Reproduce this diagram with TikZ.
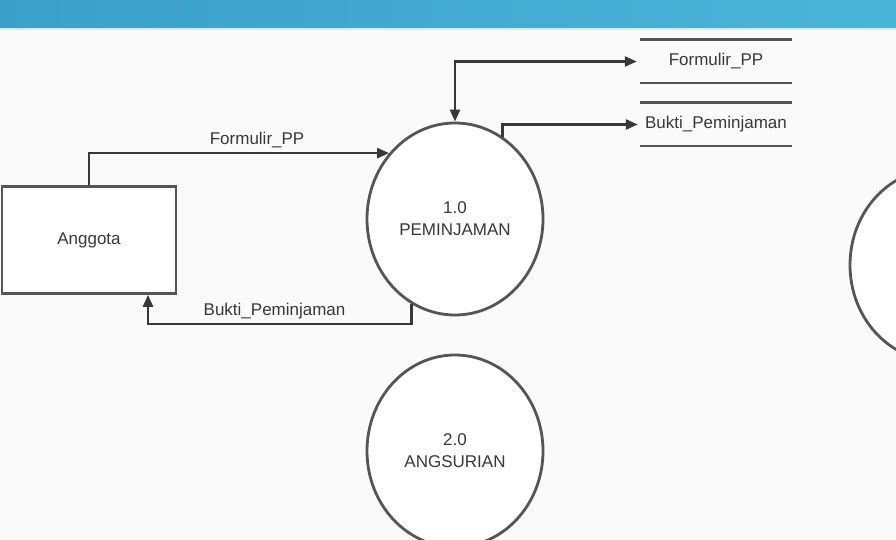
\documentclass[tikz,border=0pt]{standalone}
\usepackage{fontspec}
\setmainfont{Liberation Sans}
\setsansfont{Liberation Sans}
\usetikzlibrary{positioning, arrows.meta, calc, shapes.geometric}
\definecolor{barL}{HTML}{3C9FC9}
\definecolor{barR}{HTML}{4BB5D9}
\definecolor{paper}{HTML}{FAFAFA}
\definecolor{ink}{HTML}{383838}
\definecolor{ink2}{HTML}{555555}

\begin{document}
\begin{tikzpicture}[
    x=1pt, y=-1pt,
    font=\sffamily\fontsize{17}{22}\selectfont,
    entity/.style={
        rectangle, draw=ink2, line width=2.6pt, fill=white,
        minimum width=174pt, minimum height=107pt, text=ink
    },
    proc/.style={
        ellipse, draw=ink2, line width=2.8pt, fill=white,
        minimum width=176pt, minimum height=192pt, inner sep=0pt,
        align=center, text=ink
    },
    store/.style={
        rectangle, minimum width=152pt, minimum height=43pt,
        inner sep=0pt, text=ink
    },
    tip/.tip={Triangle[length=12pt, width=10pt]},
    arr/.style={-tip, draw=ink, line width=2.4pt},
    lbl/.style={text=ink, inner sep=4pt},
]

% ---------------------------------------------------------------- frame
\useasboundingbox (0,0) rectangle (896,540);
\fill[paper] (0,0) rectangle (896,540);
\shade[left color=barL, right color=barR] (0,0) rectangle (896,28);
\draw[white!75!barR, line width=1.5pt] (0,29) -- (896,29);

% ---------------------------------------------------------------- nodes
\node (ang) [entity] at (89,240)  {Anggota};
\node (p1)  [proc]   at (455,219) {1.0\\PEMINJAMAN};
\node (p2)  [proc]   at (455,451) {2.0\\ANGSURIAN};
\node (p3)  [proc]   at (938,265) {};

\node (fpp) [store] at (716,61.5)  {Formulir\_PP};
\node (bpj) [store] at (716,124.5) {Bukti\_Peminjaman};

\foreach \s in {fpp, bpj} {
    \draw[ink2, line width=2.6pt] (\s.north west) -- (\s.north east);
    \draw[ink2, line width=2.6pt] (\s.south west) -- (\s.south east);
}

% ---------------------------------------------------------------- flows
\draw [arr] (ang.north) |- node[lbl, above, pos=0.78] {Formulir\_PP} (p1.135);
\draw [arr] (p1.243.5) |- node[lbl, above, pos=0.76] {Bukti\_Peminjaman}
    ([xshift=59pt, yshift=-29pt]ang.south) -- ([xshift=59pt]ang.south);

\draw [arr, tip-tip] (p1.90) |- ([xshift=-3pt]fpp.west);
\draw [arr] (p1.60.6) |- ([xshift=-2pt]bpj.west);

\end{tikzpicture}
\end{document}
